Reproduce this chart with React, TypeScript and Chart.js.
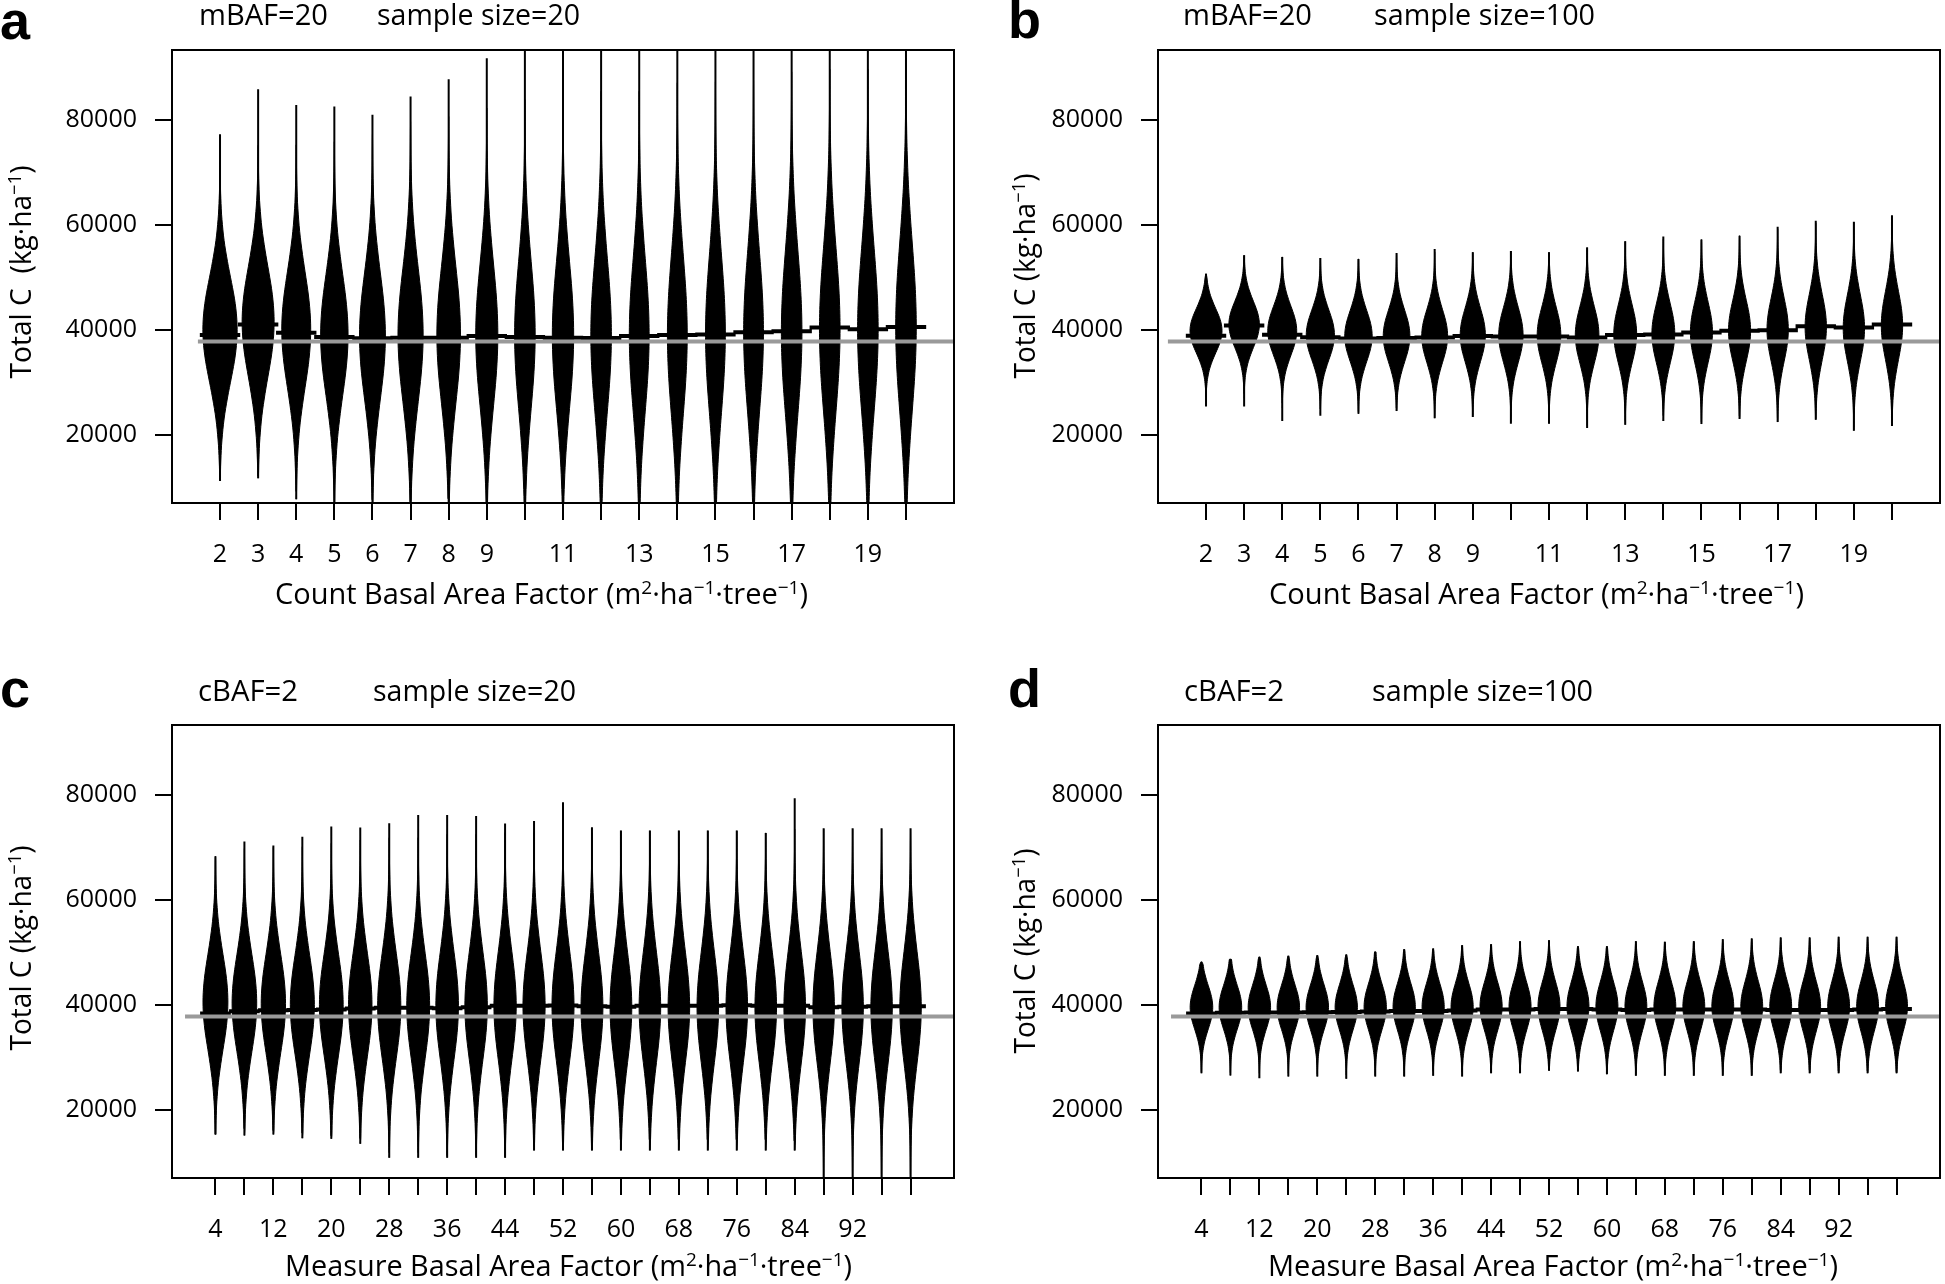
import React, { useEffect, useRef } from 'react';
import { Chart, registerables } from 'chart.js';

Chart.register(...registerables);

// ---------- shared data ----------
const countBAF = [2, 3, 4, 5, 6, 7, 8, 9, 10, 11, 12, 13, 14, 15, 16, 17, 18, 19, 20];
const countTickLabels = ['2', '3', '4', '5', '6', '7', '8', '9', '', '11', '', '13', '', '15', '', '17', '', '19', ''];
const measureBAF = [4, 8, 12, 16, 20, 24, 28, 32, 36, 40, 44, 48, 52, 56, 60, 64, 68, 72, 76, 80, 84, 88, 92, 96, 100];
const measureTickLabels = ['4', '', '12', '', '20', '', '28', '', '36', '', '44', '', '52', '', '60', '', '68', '', '76', '', '84', '', '92', '', ''];
const yTickValues = [20000, 40000, 60000, 80000];
const yTickLabels = ['20000', '40000', '60000', '80000'];
const overallMean = 37750;

// bean silhouette: relative half-width at offsets (in spread units) from the bean centre
const beanProfileZ = [0, 0.2, 0.4, 0.6, 0.8, 1.0, 1.2, 1.4, 1.6, 1.8, 2.0, 2.2, 2.4, 2.6, 2.8, 3.0, 3.2];
const beanProfileW = [1, 0.98, 0.925, 0.84, 0.73, 0.61, 0.49, 0.38, 0.28, 0.2, 0.14, 0.09, 0.06, 0.035, 0.02, 0.012, 0.006];

// ---------- panel a: mBAF=20, n=20 ----------
const aMean = [38980, 41000, 39400, 38600, 38350, 38450, 38450, 38800, 38600, 38450, 38400, 38800, 39000, 39100, 39500, 39700, 40400, 40100, 40500];
const aMin = [11200, 11700, 7700, 5800, 5500, 5600, 5200, 5000, 4800, 4700, 4900, 4600, 4500, 4400, 4300, 4200, 4300, 4100, 4000];
const aMax = [77200, 85800, 82800, 82500, 80900, 84400, 87700, 91700, 95500, 96500, 97000, 97500, 98000, 98500, 99000, 99500, 100000, 100500, 101000];
const aCenter = [40000, 41500, 40000, 39000, 38800, 39000, 39000, 39000, 39000, 39000, 39000, 39000, 39000, 39200, 39500, 39500, 40000, 40000, 40500];
const aSpread = [10000, 10500, 11000, 11500, 12000, 12700, 13000, 13500, 14000, 14000, 14500, 14500, 15000, 15000, 15000, 15500, 15500, 15500, 16000];
const aHalfWidth = [0.45, 0.42, 0.38, 0.36, 0.34, 0.33, 0.31, 0.29, 0.27, 0.28, 0.27, 0.26, 0.26, 0.26, 0.26, 0.27, 0.27, 0.27, 0.27];

// ---------- panel b: mBAF=20, n=100 ----------
const bMean = [38850, 40800, 39050, 38550, 38300, 38400, 38500, 38800, 38700, 38700, 38500, 39000, 39100, 39450, 39800, 39900, 40650, 40400, 41000];
const bMin = [25390, 25390, 22620, 23600, 23980, 24510, 23150, 23380, 22110, 22110, 21290, 21880, 22620, 22030, 23000, 22410, 22850, 20770, 21670];
const bMax = [50650, 54170, 53860, 53630, 53480, 54600, 55350, 54750, 54980, 54750, 55650, 56850, 57740, 57150, 57890, 59600, 60720, 60570, 61780];
const bCenter = [39800, 41000, 39800, 39000, 38800, 38800, 38800, 39000, 39000, 39000, 39000, 39200, 39300, 39500, 39800, 40000, 40500, 40300, 40800];
const bSpread = [4200, 4400, 4600, 4700, 4800, 4900, 5000, 5100, 5200, 5300, 5400, 5500, 5600, 5700, 5800, 6000, 6200, 6300, 6500];
const bHalfWidth = [0.42, 0.40, 0.38, 0.37, 0.36, 0.35, 0.34, 0.33, 0.32, 0.31, 0.31, 0.30, 0.30, 0.29, 0.29, 0.28, 0.28, 0.28, 0.28];

// ---------- panel c: cBAF=2, n=20 ----------
const cMean = [38300, 38750, 38950, 39000, 39100, 39250, 39400, 39400, 39300, 39500, 39800, 39800, 39850, 39700, 39600, 39800, 39800, 39800, 39900, 39800, 39800, 39500, 39600, 39700, 39700];
const cMin = [15270, 15080, 15270, 14570, 14450, 13500, 10850, 10850, 10850, 10850, 10850, 12230, 12230, 12230, 12230, 12230, 12230, 12230, 12230, 12230, 12230, 5000, 5000, 5000, 5000];
const cMax = [68240, 71080, 70320, 71950, 73930, 73740, 74550, 76130, 76130, 75940, 74510, 74990, 78520, 73800, 73170, 73170, 73170, 73170, 73170, 72710, 79280, 73600, 73600, 73600, 73600];
const cCenter = [40500, 40300, 40200, 40000, 40000, 40000, 39800, 39800, 39800, 39800, 39800, 39800, 39800, 39500, 39500, 39500, 39500, 39500, 39500, 39500, 39500, 39500, 39500, 39500, 39500];
const cSpread = [9000, 9200, 9300, 9400, 9600, 9800, 10000, 10000, 10200, 10200, 10300, 10300, 10400, 10400, 10500, 10500, 10500, 10500, 10500, 10500, 10600, 10600, 10600, 10600, 10600];
const cHalfWidth = [1.72, 1.70, 1.68, 1.66, 1.64, 1.62, 1.60, 1.58, 1.56, 1.55, 1.54, 1.53, 1.52, 1.51, 1.50, 1.49, 1.49, 1.49, 1.49, 1.49, 1.49, 1.48, 1.48, 1.48, 1.48];

// ---------- panel d: cBAF=2, n=100 ----------
const dMean = [38300, 38450, 38500, 38500, 38550, 38600, 38700, 38800, 38800, 38900, 39100, 39100, 39200, 39200, 39100, 39000, 39100, 39100, 39100, 39100, 39000, 39000, 39000, 39100, 39200];
const dMin = [26950, 26510, 26000, 26320, 26320, 25890, 26320, 26320, 26450, 26320, 26950, 26950, 27400, 27270, 26760, 26450, 26450, 26450, 26450, 26450, 26950, 26950, 26950, 26950, 26950];
const dMax = [48160, 48670, 49110, 49300, 49430, 49550, 50060, 50570, 50690, 51330, 51520, 52090, 52280, 51140, 51140, 52090, 51960, 52090, 52470, 52590, 52780, 52780, 52910, 52910, 52910];
const dCenter = [39500, 39500, 39500, 39500, 39500, 39500, 39600, 39600, 39600, 39600, 39700, 39700, 39700, 39700, 39700, 39700, 39700, 39700, 39700, 39700, 39700, 39700, 39700, 39700, 39700];
const dSpread = [4100, 4150, 4200, 4200, 4250, 4300, 4350, 4400, 4400, 4450, 4500, 4500, 4600, 4600, 4600, 4600, 4600, 4650, 4650, 4700, 4700, 4700, 4750, 4750, 4800];
const dHalfWidth = [1.56, 1.56, 1.55, 1.55, 1.55, 1.54, 1.54, 1.54, 1.53, 1.53, 1.53, 1.52, 1.52, 1.52, 1.52, 1.51, 1.51, 1.51, 1.51, 1.51, 1.51, 1.51, 1.51, 1.51, 1.51];

// ---------- layout ----------
const BOX_W = 782;
const BOX_H = 456;
const PAD_LEFT = 160;
const PAD_TOP = 30;
const PAD_RIGHT = 4;
const PAD_BOTTOM = 80;
const CANVAS_W = PAD_LEFT + BOX_W + PAD_RIGHT;
const CANVAS_H = PAD_TOP + BOX_H + PAD_BOTTOM;
const FONT = "'Open Sans', 'Noto Sans', sans-serif";

const panels = [
  { id: 'a', xs: countBAF, tickLabels: countTickLabels, mean: aMean, lo: aMin, hi: aMax, center: aCenter, spread: aSpread, halfWidth: aHalfWidth, xMin: 0.74, xMax: 21.26, grayFrom: 1.42, left: 172, top: 47 },
  { id: 'b', xs: countBAF, tickLabels: countTickLabels, mean: bMean, lo: bMin, hi: bMax, center: bCenter, spread: bSpread, halfWidth: bHalfWidth, xMin: 0.74, xMax: 21.26, grayFrom: 1.0, left: 1158, top: 47 },
  { id: 'c', xs: measureBAF, tickLabels: measureTickLabels, mean: cMean, lo: cMin, hi: cMax, center: cCenter, spread: cSpread, halfWidth: cHalfWidth, xMin: -2, xMax: 106, grayFrom: -0.2, left: 172, top: 722 },
  { id: 'd', xs: measureBAF, tickLabels: measureTickLabels, mean: dMean, lo: dMin, hi: dMax, center: dCenter, spread: dSpread, halfWidth: dHalfWidth, xMin: -2, xMax: 106, grayFrom: -0.2, left: 1158, top: 722 },
];

const framePlugin = {
  id: 'frame',
  afterDatasetsDraw(chart: any) {
    const { ctx, chartArea } = chart;
    ctx.save();
    ctx.strokeStyle = '#000';
    ctx.lineWidth = 2;
    ctx.strokeRect(chartArea.left, chartArea.top, chartArea.right - chartArea.left, chartArea.bottom - chartArea.top);
    ctx.restore();
  },
};

function buildDatasets(p: any) {
  const datasets: any[] = [];
  const step = p.xs[1] - p.xs[0];
  // overall (gray) line
  datasets.push({
    data: [{ x: p.grayFrom, y: overallMean }, { x: p.xMax, y: overallMean }],
    showLine: true, borderColor: '#9a9a9a', borderWidth: 4, pointRadius: 0, fill: false,
  });
  // bean mean lines
  const meanPts: any[] = [];
  p.xs.forEach((x: number, i: number) => {
    meanPts.push({ x: x - 0.53 * step, y: p.mean[i] }, { x: x + 0.53 * step, y: p.mean[i] }, { x: x + 0.53 * step, y: null });
  });
  datasets.push({ data: meanPts, showLine: true, borderColor: '#000', borderWidth: 4, pointRadius: 0, spanGaps: false, fill: false });
  // thin data-range lines
  const linePts: any[] = [];
  p.xs.forEach((x: number, i: number) => {
    linePts.push({ x, y: p.lo[i] }, { x, y: p.hi[i] }, { x, y: null });
  });
  datasets.push({ data: linePts, showLine: true, borderColor: '#000', borderWidth: 2, pointRadius: 0, spanGaps: false, fill: false });
  // beans
  p.xs.forEach((x: number, i: number) => {
    const c = p.center[i];
    const s = p.spread[i];
    const w = p.halfWidth[i];
    const n = beanProfileZ.length;
    const lo = Math.max(p.lo[i], c - beanProfileZ[n - 1] * s);
    const hi = Math.min(p.hi[i], c + beanProfileZ[n - 1] * s);
    const right: any[] = [{ x, y: lo, r: 0 }];
    for (let k = n - 1; k >= 0; k--) {
      const y = c - beanProfileZ[k] * s;
      if (y > lo && y < hi) right.push({ x: x + w * beanProfileW[k], y, r: beanProfileW[k] });
    }
    for (let k = 1; k < n; k++) {
      const y = c + beanProfileZ[k] * s;
      if (y > lo && y < hi) right.push({ x: x + w * beanProfileW[k], y, r: beanProfileW[k] });
    }
    right.push({ x, y: hi, r: 0 });
    const left = right.slice(1, -1).reverse().map((pt) => ({ x: x - w * pt.r, y: pt.y }));
    const poly = right.map((pt) => ({ x: pt.x, y: pt.y })).concat(left);
    datasets.push({
      data: poly, showLine: true, fill: 'shape', backgroundColor: '#000', borderColor: '#000',
      borderWidth: 1, pointRadius: 0, tension: 0.3,
    });
  });
  return datasets;
}

function Panel({ p }: { p: any }) {
  const ref = useRef<HTMLCanvasElement>(null);
  useEffect(() => {
    if (!ref.current) return;
    const tickFont = { family: FONT, size: 25 };
    const gridOpts = {
      display: true, drawOnChartArea: false, drawTicks: true, tickLength: 17,
      tickWidth: 2, tickColor: '#000', color: '#000', lineWidth: 2,
    };
    const chart = new Chart(ref.current, {
      type: 'scatter',
      data: { datasets: buildDatasets(p) },
      options: {
        responsive: false,
        maintainAspectRatio: false,
        animation: false,
        devicePixelRatio: 1,
        events: [],
        layout: { padding: { left: 0, top: PAD_TOP, right: PAD_RIGHT, bottom: 0 } },
        plugins: { legend: { display: false }, tooltip: { enabled: false }, title: { display: false } },
        elements: { point: { radius: 0 } },
        scales: {
          x: {
            type: 'linear', min: p.xMin, max: p.xMax, bounds: 'data',
            afterBuildTicks: (scale: any) => { scale.ticks = p.xs.map((v: number) => ({ value: v })); },
            afterFit: (scale: any) => { scale.height = PAD_BOTTOM; },
            ticks: {
              autoSkip: false, maxRotation: 0, minRotation: 0, padding: 20, color: '#000', font: tickFont,
              callback: (_v: any, i: number) => p.tickLabels[i],
            },
            grid: gridOpts,
            border: { display: false },
          },
          y: {
            type: 'linear', min: 7000, max: 93250, bounds: 'data',
            afterBuildTicks: (scale: any) => { scale.ticks = yTickValues.map((v) => ({ value: v })); },
            afterFit: (scale: any) => { scale.width = PAD_LEFT; },
            ticks: {
              padding: 18, color: '#000', font: tickFont,
              callback: (_v: any, i: number) => yTickLabels[i],
            },
            grid: gridOpts,
            border: { display: false },
          },
        },
      } as any,
      plugins: [framePlugin],
    });
    return () => chart.destroy();
  }, []);
  return (
    <canvas
      ref={ref}
      width={CANVAS_W}
      height={CANVAS_H}
      style={{ position: 'absolute', left: p.left - PAD_LEFT, top: p.top - PAD_TOP, width: CANVAS_W, height: CANVAS_H }}
    />
  );
}

function Units({ sup = 19, rise = 10 }: { sup?: number; rise?: number }) {
  return (
    <>
      {'(m'}
      <tspan dy={-rise} fontSize={sup}>2</tspan>
      <tspan dy={rise}>·ha</tspan>
      <tspan dy={-rise} fontSize={sup}>−1</tspan>
      <tspan dy={rise}>·tree</tspan>
      <tspan dy={-rise} fontSize={sup}>−1</tspan>
      <tspan dy={rise}>)</tspan>
    </>
  );
}

function YTitle({ x, y, len, label }: { x: number; y: number; len: number; label: string }) {
  return (
    <text
      transform={`translate(${x},${y}) rotate(-90)`}
      textAnchor="middle" fontSize={29} fontFamily={FONT} fill="#000"
      textLength={len} lengthAdjust="spacingAndGlyphs" style={{ whiteSpace: 'pre' }}
    >
      {label}
      <tspan dy={-10} fontSize={19}>−1</tspan>
      <tspan dy={10}>)</tspan>
    </text>
  );
}

function Overlay() {
  const letter = { fontFamily: "'Liberation Sans', Arial, sans-serif", fontWeight: 700, fontSize: 54, fill: '#000' } as any;
  const head = { fontFamily: FONT, fontSize: 28.5, fill: '#000', lengthAdjust: 'spacingAndGlyphs' } as any;
  const xt = { fontFamily: FONT, fontSize: 29, fill: '#000', lengthAdjust: 'spacingAndGlyphs' } as any;
  return (
    <svg width={1945} height={1284} style={{ position: 'absolute', left: 0, top: 0 }}>
      <text x={0} y={39} {...letter}>a</text>
      <text x={1008} y={38} {...letter}>b</text>
      <text x={0} y={707} {...letter}>c</text>
      <text x={1008} y={707} {...letter}>d</text>

      <text x={199} y={25} textLength={129} {...head}>mBAF=20</text>
      <text x={377} y={25} textLength={203} {...head}>sample size=20</text>
      <text x={1183} y={25} textLength={129} {...head}>mBAF=20</text>
      <text x={1374} y={25} textLength={221} {...head}>sample size=100</text>
      <text x={198} y={701} textLength={100} {...head}>cBAF=2</text>
      <text x={373} y={701} textLength={203} {...head}>sample size=20</text>
      <text x={1184} y={701} textLength={100} {...head}>cBAF=2</text>
      <text x={1372} y={701} textLength={221} {...head}>sample size=100</text>

      <text x={275} y={604} textLength={533} {...xt}>Count Basal Area Factor <Units /></text>
      <text x={1269} y={604} textLength={535} {...xt}>Count Basal Area Factor <Units /></text>
      <text x={285} y={1276} textLength={567} {...xt}>Measure Basal Area Factor <Units /></text>
      <text x={1268} y={1276} textLength={570} {...xt}>Measure Basal Area Factor <Units /></text>

      <YTitle x={31} y={272} len={213} label="Total C  (kg·ha" />
      <YTitle x={1035} y={276} len={205} label="Total C (kg·ha" />
      <YTitle x={31} y={948} len={205} label="Total C (kg·ha" />
      <YTitle x={1035} y={951} len={205} label="Total C (kg·ha" />
    </svg>
  );
}

export default function App() {
  return (
    <div style={{ position: 'absolute', left: 0, top: 0, width: 1945, height: 1284, background: '#fff', overflow: 'hidden' }}>
      {panels.map((p) => (
        <Panel key={p.id} p={p} />
      ))}
      <Overlay />
    </div>
  );
}
